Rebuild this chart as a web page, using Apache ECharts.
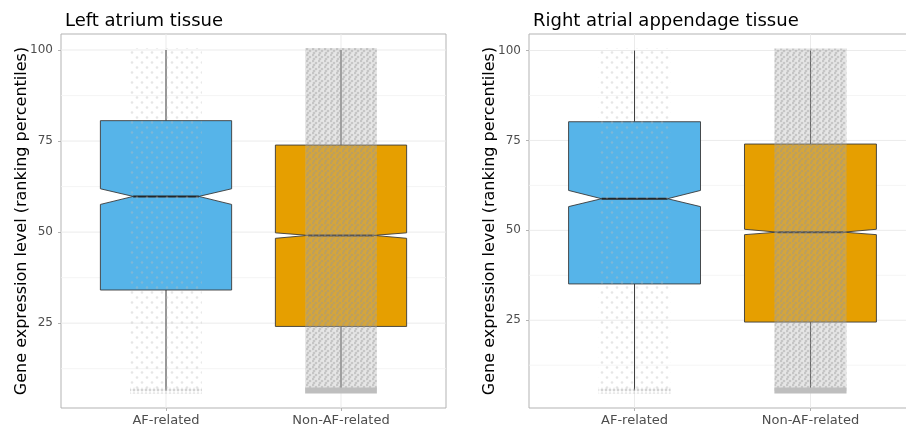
<!DOCTYPE html>
<html><head><meta charset="utf-8">
<script src="https://cdn.jsdelivr.net/npm/echarts@6/dist/echarts.min.js"></script>
<style>html,body{margin:0;padding:0;background:#fff}#c{width:906px;height:432px}</style>
</head><body><div id="c"></div>
<script>
// ---------------- data ----------------
const categories = ['AF-related', 'Non-AF-related'];
const panelTitles = ['Left atrium tissue', 'Right atrial appendage tissue'];
const yAxisTitle = 'Gene expression level (ranking percentiles)';
const yTicks = [25, 50, 75, 100];
const yMinorGrid = [12.5, 37.5, 62.5, 87.5];
// box stats: [whiskerLow, q1, notchLow, median, notchHigh, q3, whiskerHigh]
const leftAF     = [6.5, 34.1, 57.6, 59.8, 61.9, 80.6, 100];
const leftNonAF  = [6.5, 24.1, 48.3, 49.1, 49.8, 73.9, 100];
const rightAF    = [5.5, 35.1, 56.6, 58.8, 61.1, 80.2, 100];
const rightNonAF = [5.5, 24.5, 48.8, 49.5, 50.3, 74.0, 100];
// y range shown by each panel
const leftRange  = [1.7, 104.4];
const rightRange = [0.6, 104.6];
// jittered gene points: [lowest value (tied floor row), highest value]
const leftCloud  = [[6.5, 100], [6.5, 100]];
const rightCloud = [[5.5, 100], [5.5, 100]];
const cloudDensity = ['sparse', 'dense'];

// ---------------- styles ----------------
const FONT = 'DejaVu Sans';
const boxColors = ['#56B4E9', '#E69F00'];
const BOX_HW = 0.375, JIT_HW = 0.205;

function tile(size, dots, r, color, bg) {
  const c = document.createElement('canvas');
  c.width = size; c.height = size;
  const g = c.getContext('2d');
  if (bg) { g.fillStyle = bg; g.fillRect(0, 0, size, size); }
  g.fillStyle = color;
  dots.forEach(d => { g.beginPath(); g.arc(d[0] * size, d[1] * size, r, 0, Math.PI * 2); g.fill(); });
  return c;
}
const sparseTile = tile(10, [[0.2, 0.25], [0.7, 0.75]], 1.3, 'rgba(190,190,190,0.38)');
const denseTile = tile(6, [[0.17, 0.17], [0.67, 0.5], [0.33, 0.83]], 1.35, 'rgba(150,150,150,0.4)', 'rgba(180,180,180,0.33)');
const sparseRow = tile(4, [[0.5, 0.5]], 1.4, 'rgba(175,175,175,0.55)');

function boxData(a, b) { return [[1].concat(a), [2].concat(b)]; }
function cloudData(c) { return c.map((v, i) => [i + 1, v[0], v[1]]); }

function gridRender(params, api) {
  const kind = api.value(0), v = api.value(1);
  const yr = params.context.yr;
  let p1, p2;
  if (kind === 2) { p1 = api.coord([v, yr[0]]); p2 = api.coord([v, yr[1]]); }
  else { p1 = api.coord([0.4, v]); p2 = api.coord([2.6, v]); }
  return { type: 'line', shape: { x1: p1[0], y1: p1[1], x2: p2[0], y2: p2[1] },
    style: { stroke: kind === 1 ? '#F3F3F3' : '#EBEBEB', lineWidth: kind === 1 ? 0.8 : 1 } };
}
function gridData() {
  const d = [];
  yTicks.forEach(v => d.push([0, v]));
  yMinorGrid.forEach(v => d.push([1, v]));
  categories.forEach((c, i) => d.push([2, i + 1]));
  return d;
}

function boxRender(params, api) {
  const x = api.value(0);
  const wl = api.value(1), q1 = api.value(2), nl = api.value(3), md = api.value(4),
        nh = api.value(5), q3 = api.value(6), wh = api.value(7);
  const hw = BOX_HW, nw = BOX_HW * 0.5;
  const P = (xx, yy) => api.coord([xx, yy]);
  const poly = [P(x - hw, q3), P(x + hw, q3), P(x + hw, nh), P(x + nw, md), P(x + hw, nl),
                P(x + hw, q1), P(x - hw, q1), P(x - hw, nl), P(x - nw, md), P(x - hw, nh)];
  const a = P(x, q3), b = P(x, wh), c = P(x, q1), d = P(x, wl);
  const m1 = P(x - nw, md), m2 = P(x + nw, md);
  return { type: 'group', children: [
    { type: 'line', shape: { x1: a[0], y1: a[1], x2: b[0], y2: b[1] }, style: { stroke: '#3a3a3a', lineWidth: 1 } },
    { type: 'line', shape: { x1: c[0], y1: c[1], x2: d[0], y2: d[1] }, style: { stroke: '#3a3a3a', lineWidth: 1 } },
    { type: 'polygon', shape: { points: poly }, style: { fill: boxColors[x - 1], stroke: '#3a3a3a', lineWidth: 0.9 } },
    { type: 'line', shape: { x1: m1[0], y1: m1[1], x2: m2[0], y2: m2[1] }, style: { stroke: '#262626', lineWidth: 2 } }
  ] };
}

function cloudRender(params, api) {
  const x = api.value(0), lo = api.value(1), hi = api.value(2);
  const dense = cloudDensity[x - 1] === 'dense';
  const tl = api.coord([x - JIT_HW, hi]), br = api.coord([x + JIT_HW, lo]);
  const top = tl[1] - 2, bottom = br[1];
  const children = [
    { type: 'rect', shape: { x: tl[0], y: top, width: br[0] - tl[0], height: bottom - top },
      style: { fill: { image: dense ? denseTile : sparseTile, repeat: 'repeat' } } }
  ];
  children.push({ type: 'rect', shape: { x: tl[0], y: bottom - 3, width: br[0] - tl[0], height: 6 },
    style: { fill: dense ? '#BEBEBE' : { image: sparseRow, repeat: 'repeat' } } });
  return { type: 'group', children: children };
}

const panels = [
  { title: panelTitles[0], left: 61, width: 385, range: leftRange, boxes: boxData(leftAF, leftNonAF), cloud: cloudData(leftCloud) },
  { title: panelTitles[1], left: 529, width: 387, range: rightRange, boxes: boxData(rightAF, rightNonAF), cloud: cloudData(rightCloud) }
];

const option = {
  animation: false,
  backgroundColor: '#fff',
  textStyle: { fontFamily: FONT },
  title: panels.map(p => ({ text: p.title, left: p.left - 1, top: 7,
    textStyle: { fontFamily: FONT, fontSize: 18, fontWeight: 'normal', color: '#000' } })),
  grid: panels.map(p => ({ left: p.left, top: 34, width: p.width, height: 374, show: true,
    outerBoundsMode: 'none', containLabel: false,
    borderColor: '#B3B3B3', borderWidth: 1, backgroundColor: 'transparent' })),
  xAxis: panels.map((p, i) => ({ type: 'value', gridIndex: i, min: 0.4, max: 2.6,
    axisLine: { show: false }, splitLine: { show: false },
    axisTick: { show: true, length: 3, customValues: [1, 2], lineStyle: { color: '#B3B3B3' } },
    axisLabel: { customValues: [1, 2], margin: 6, color: '#4D4D4D', fontSize: 13, fontFamily: FONT,
      formatter: v => categories[Math.round(v) - 1] } })),
  yAxis: panels.map((p, i) => ({ type: 'value', gridIndex: i, min: p.range[0], max: p.range[1],
    axisLine: { show: false }, splitLine: { show: false },
    axisTick: { show: true, length: 3, customValues: yTicks, lineStyle: { color: '#B3B3B3' } },
    axisLabel: { customValues: yTicks, margin: 8, color: '#4D4D4D', fontSize: 12, fontFamily: FONT },
    name: yAxisTitle, nameLocation: 'middle', nameGap: 31, nameMoveOverlap: false,
    nameTextStyle: { fontFamily: FONT, fontSize: 16, color: '#000' } })),
  series: []
};
panels.forEach((p, i) => {
  option.series.push({ type: 'custom', xAxisIndex: i, yAxisIndex: i, z: 1, silent: true,
    renderItem: (params, api) => { params.context.yr = p.range; return gridRender(params, api); },
    data: gridData() });
  option.series.push({ type: 'custom', xAxisIndex: i, yAxisIndex: i, z: 2, silent: true,
    renderItem: boxRender, data: p.boxes });
  option.series.push({ type: 'custom', xAxisIndex: i, yAxisIndex: i, z: 3, silent: true,
    renderItem: cloudRender, data: p.cloud });
});
const chart = echarts.init(document.getElementById('c'), null, { renderer: 'canvas' });
chart.setOption(option);
</script></body></html>
